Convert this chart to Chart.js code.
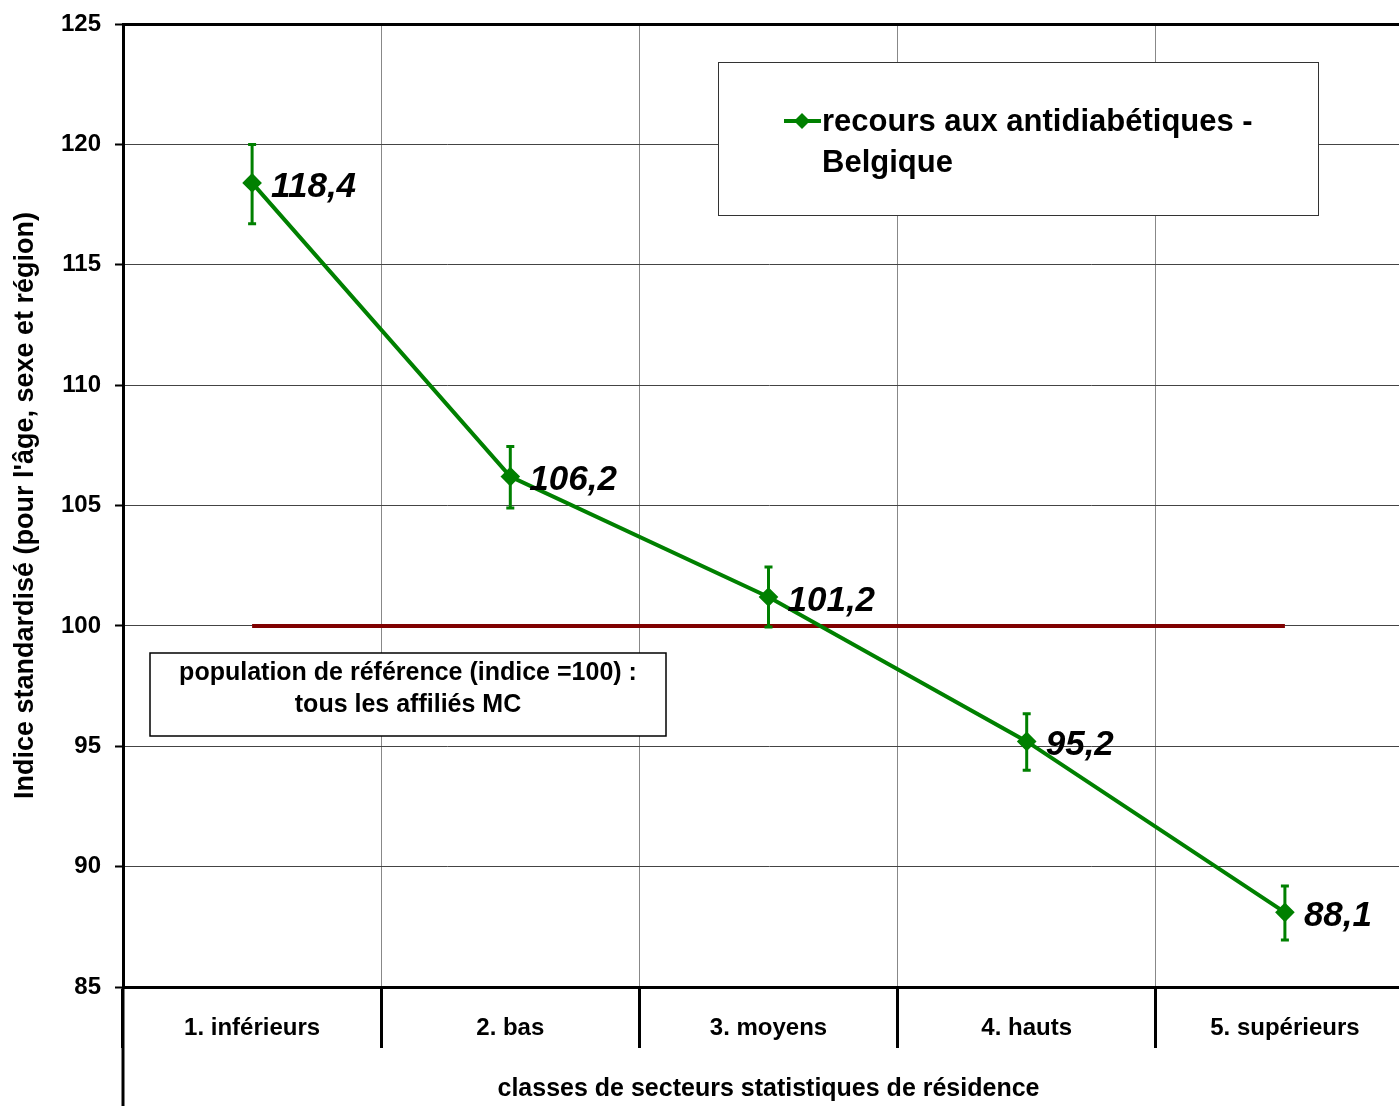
<!DOCTYPE html>
<html>
<head>
<meta charset="utf-8">
<script src="https://cdn.jsdelivr.net/npm/chart.js@4/dist/chart.umd.min.js"></script>
<style>
  html, body { margin: 0; padding: 0; background: #fff; overflow: hidden; }
  #wrap { width: 1425px; height: 1106px; }
</style>
</head>
<body>
<div id="wrap"><canvas id="indiceChart" width="1425" height="1106"></canvas></div>
<script>
// classes de secteurs statistiques
const categories = ['1. inférieurs', '2. bas', '3. moyens', '4. hauts', '5. supérieurs'];
const indiceValues = [118.4, 106.2, 101.2, 95.2, 88.1];
const errLow = [116.7, 104.9, 99.95, 94.0, 86.95];   // bas des barres d'erreur
const errHigh = [120.0, 107.45, 102.45, 96.35, 89.2]; // haut des barres d'erreur
const refLine = [100, 100, 100, 100, 100];
const yTicks = [85, 90, 95, 100, 105, 110, 115, 120, 125];
const seriesLabel = ['recours aux antidiabétiques -', 'Belgique'];
const refNote = ['population de référence (indice =100) :', 'tous les affiliés MC'];

const GREEN = '#008000';
const DARKRED = '#800000';
const FONT = "'Liberation Sans', Arial, sans-serif";

// barres d'erreur + etiquettes des valeurs
const errorBars = {
  id: 'errorBars',
  afterDatasetsDraw(chart) {
    const ctx = chart.ctx;
    const x = chart.scales.x, y = chart.scales.y;
    ctx.save();
    ctx.strokeStyle = GREEN;
    ctx.lineWidth = 3;
    indiceValues.forEach((v, i) => {
      const px = x.getPixelForValue(i);
      const top = y.getPixelForValue(errHigh[i]);
      const bot = y.getPixelForValue(errLow[i]);
      ctx.beginPath();
      ctx.moveTo(px, top); ctx.lineTo(px, bot);
      ctx.moveTo(px - 4, top); ctx.lineTo(px + 4, top);
      ctx.moveTo(px - 4, bot); ctx.lineTo(px + 4, bot);
      ctx.stroke();
    });
    ctx.fillStyle = '#000';
    ctx.font = 'italic bold 35px ' + FONT;
    ctx.textBaseline = 'middle';
    indiceValues.forEach((v, i) => {
      const px = x.getPixelForValue(i);
      const py = y.getPixelForValue(v);
      ctx.fillText(v.toFixed(1).replace('.', ','), px + 19, py + 4);
    });
    ctx.restore();
  }
};

// legende, note de reference, prolongement de l'axe y
const boxes = {
  id: 'boxes',
  afterDraw(chart) {
    const ctx = chart.ctx;
    const area = chart.chartArea;
    ctx.save();
    // axe y qui descend jusqu'en bas
    ctx.strokeStyle = '#000';
    ctx.lineWidth = 3;
    ctx.beginPath();
    ctx.moveTo(area.left, area.bottom);
    ctx.lineTo(area.left, chart.height);
    ctx.stroke();

    // legende
    ctx.fillStyle = '#fff';
    ctx.fillRect(718.5, 62.5, 600, 153);
    ctx.strokeStyle = '#333';
    ctx.lineWidth = 1;
    ctx.strokeRect(718.5, 62.5, 600, 153);
    ctx.strokeStyle = GREEN;
    ctx.lineWidth = 4;
    ctx.beginPath();
    ctx.moveTo(784, 121); ctx.lineTo(821, 121);
    ctx.stroke();
    ctx.fillStyle = GREEN;
    ctx.beginPath();
    ctx.moveTo(802, 113); ctx.lineTo(810, 121); ctx.lineTo(802, 129); ctx.lineTo(794, 121);
    ctx.closePath();
    ctx.fill();
    ctx.fillStyle = '#000';
    ctx.font = 'bold 31px ' + FONT;
    ctx.textBaseline = 'middle';
    ctx.textAlign = 'left';
    seriesLabel.forEach((t, i) => ctx.fillText(t, 822, 122 + i * 41));

    // note population de reference
    ctx.fillStyle = '#fff';
    ctx.fillRect(150, 653, 516, 83);
    ctx.strokeStyle = '#000';
    ctx.lineWidth = 1.5;
    ctx.strokeRect(150, 653, 516, 83);
    ctx.fillStyle = '#000';
    ctx.font = 'bold 25px ' + FONT;
    ctx.textAlign = 'center';
    refNote.forEach((t, i) => ctx.fillText(t, 408, 673 + i * 32));
    ctx.restore();
  }
};

const ctx = document.getElementById('indiceChart').getContext('2d');

const chart = new Chart(ctx, {
  type: 'line',
  data: {
    labels: categories,
    datasets: [{
      label: seriesLabel.join(' '),
      data: indiceValues,
      borderColor: GREEN,
      backgroundColor: GREEN,
      borderWidth: 4,
      pointStyle: 'rectRot',
      pointRadius: 7,
      pointBackgroundColor: GREEN,
      pointBorderColor: GREEN,
      tension: 0,
      fill: false
    }, {
      label: 'référence',
      data: refLine,
      borderColor: DARKRED,
      borderWidth: 4,
      pointRadius: 0,
      fill: false
    }]
  },
  options: {
    responsive: false,
    animation: false,
    layout: { padding: { top: 24, right: 2, left: 0, bottom: 0 } },
    plugins: {
      legend: { display: false },
      tooltip: { enabled: false }
    },
    scales: {
      x: {
        type: 'category',
        offset: true,
        afterFit: s => { s.height = 119; },
        grid: {
          offset: true,
          color: '#888',
          lineWidth: 1,
          tickColor: '#000',
          tickWidth: 3,
          tickLength: 61
        },
        border: { color: '#000', width: 3 },
        ticks: {
          color: '#000',
          font: { family: FONT, size: 24, weight: 'bold' },
          padding: -34,
          maxRotation: 0
        },
        title: {
          display: true,
          text: 'classes de secteurs statistiques de résidence',
          color: '#000',
          font: { family: FONT, size: 25, weight: 'bold' },
          padding: { top: 0, bottom: 2 }
        }
      },
      y: {
        min: 85,
        max: 125,
        afterFit: s => { s.width = 123; },
        afterBuildTicks: s => { s.ticks = yTicks.map(v => ({ value: v })); },
        grid: {
          color: c => c.tick && c.tick.value === 125 ? '#000' : '#444',
          lineWidth: c => c.tick && c.tick.value === 125 ? 3 : 1,
          tickColor: '#000',
          tickWidth: 2,
          tickLength: 8
        },
        border: { color: '#000', width: 3 },
        ticks: {
          color: '#000',
          font: { family: FONT, size: 24, weight: 'bold', lineHeight: 0.5 },
          padding: 14
        },
        title: {
          display: true,
          text: "Indice standardisé (pour l'âge, sexe et région)",
          color: '#000',
          font: { family: FONT, size: 27, weight: 'bold' },
          padding: { top: 9, bottom: 0 }
        }
      }
    }
  },
  plugins: [errorBars, boxes]
});
</script>
</body>
</html>
